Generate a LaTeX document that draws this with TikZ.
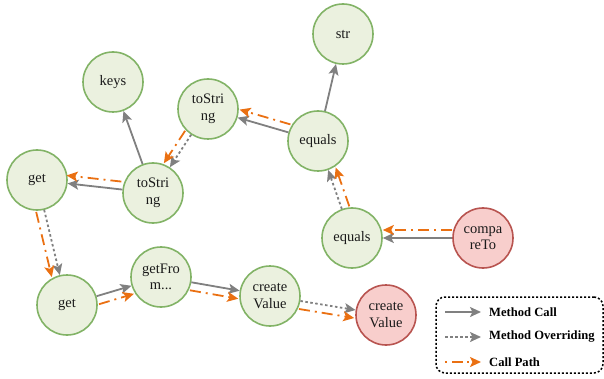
\documentclass[tikz,border=0pt]{standalone}
\usepackage{fontspec}
\setmainfont{Liberation Serif}
\usetikzlibrary{arrows.meta}
\definecolor{gfill}{HTML}{EBF1DF}
\definecolor{gline}{HTML}{82B366}
\definecolor{rfill}{HTML}{F8CECC}
\definecolor{rline}{HTML}{B85450}
\definecolor{corange}{HTML}{EA7012}
\definecolor{cgray}{HTML}{808080}
\definecolor{ctext}{HTML}{1A1A1A}
\begin{document}
\begin{tikzpicture}[x=1pt,y=-1pt,
  meth/.style={circle, minimum size=60pt, inner sep=0pt, line width=1.6pt, draw=gline, fill=gfill,
    text=ctext, align=center, font=\fontsize{14.5}{16.5}\selectfont},
  methred/.style={meth, draw=rline, fill=rfill},
  tip/.style={-{Stealth[length=11pt,width=10pt,inset=2.5pt]}},
  mcall/.style={tip, draw=cgray, line width=1.8pt},
  moverride/.style={tip, draw=cgray, line width=1.8pt, dash pattern=on 2.5pt off 2.5pt},
  cpath/.style={tip, draw=corange, line width=1.8pt, dash pattern=on 11pt off 5pt on 2pt off 5pt},
  legtext/.style={anchor=west, font=\bfseries\fontsize{12.6}{15}\selectfont, text=black, inner sep=0pt}
]
\useasboundingbox (0,0) rectangle (604,379);

\node[meth] (str) at (343,34) {str};
\node[meth] (keys) at (113,82) {keys};
\node[meth] (tstop) at (208,109) {toStri\\ng};
\node[meth] (eqtop) at (318,141) {equals};
\node[meth] (getl) at (37,180) {get};
\node[meth] (tsmid) at (153,193) {toStri\\ng};
\node[meth] (eqbot) at (352,238) {equals};
\node[methred] (cmp) at (483,238) {compa\\reTo};
\node[meth] (getb) at (67,305) {get};
\node[meth] (getfrom) at (161,277) {getFro\\m...};
\node[meth] (cvg) at (270,296) {create\\Value};
\node[methred] (cvr) at (386,315) {create\\Value};

% method calls / overriding
\draw[mcall] (eqtop) -- (str);
\draw[mcall] (eqtop) -- (tstop);
\draw[moverride] (tstop) -- (tsmid);
\draw[mcall] (tsmid) -- (keys);
\draw[mcall] (tsmid) -- (getl);
\draw[moverride] (getl) -- (getb);
\draw[mcall] (getb) -- (getfrom);
\draw[mcall] (getfrom) -- (cvg);
\draw[moverride] (cvg) -- (cvr);
\draw[mcall] (cmp) -- (eqbot);
\draw[moverride] (eqbot) -- (eqtop);

% call path
\draw[cpath, transform canvas={xshift=2pt, yshift=8pt}] (eqtop) -- (tstop);
\draw[cpath, transform canvas={xshift=-6pt, yshift=4pt}] (tstop) -- (tsmid);
\draw[cpath, transform canvas={xshift=-1pt, yshift=8pt}] (tsmid) -- (getl);
\draw[cpath, transform canvas={xshift=-8pt, yshift=-2pt}] (getl) -- (getb);
\draw[cpath, transform canvas={xshift=2.5pt, yshift=-8pt}] (getb) -- (getfrom);
\draw[cpath, transform canvas={xshift=-1.4pt, yshift=-8pt}] (getfrom) -- (cvg);
\draw[cpath, transform canvas={xshift=-1.4pt, yshift=-8pt}] (cvg) -- (cvr);
\draw[cpath, transform canvas={yshift=8pt}] (cmp) -- (eqbot);
\draw[cpath, transform canvas={xshift=7.5pt, yshift=2.6pt}] (eqbot) -- (eqtop);

% legend
\node[draw=black, line width=1.5pt, dash pattern=on 2pt off 2pt, rounded corners=9pt,
  minimum width=167pt, minimum height=76pt, inner sep=0pt] (legend) at (519.5,335) {};
\coordinate (l1a) at (445,312); \coordinate (l1b) at (481,312);
\coordinate (l2a) at (445,337); \coordinate (l2b) at (481,337);
\coordinate (l3a) at (445,362); \coordinate (l3b) at (481,362);
\draw[mcall] (l1a) -- (l1b);
\draw[moverride] (l2a) -- (l2b);
\draw[cpath, dash pattern=on 2pt off 5pt on 11pt off 4pt] (l3a) -- (l3b);
\node[legtext] (t1) at (489,312) {Method Call};
\node[legtext] (t2) at (489,337) {Method Overriding};
\node[legtext] (t3) at (489,362) {Call Path};
\end{tikzpicture}
\end{document}
